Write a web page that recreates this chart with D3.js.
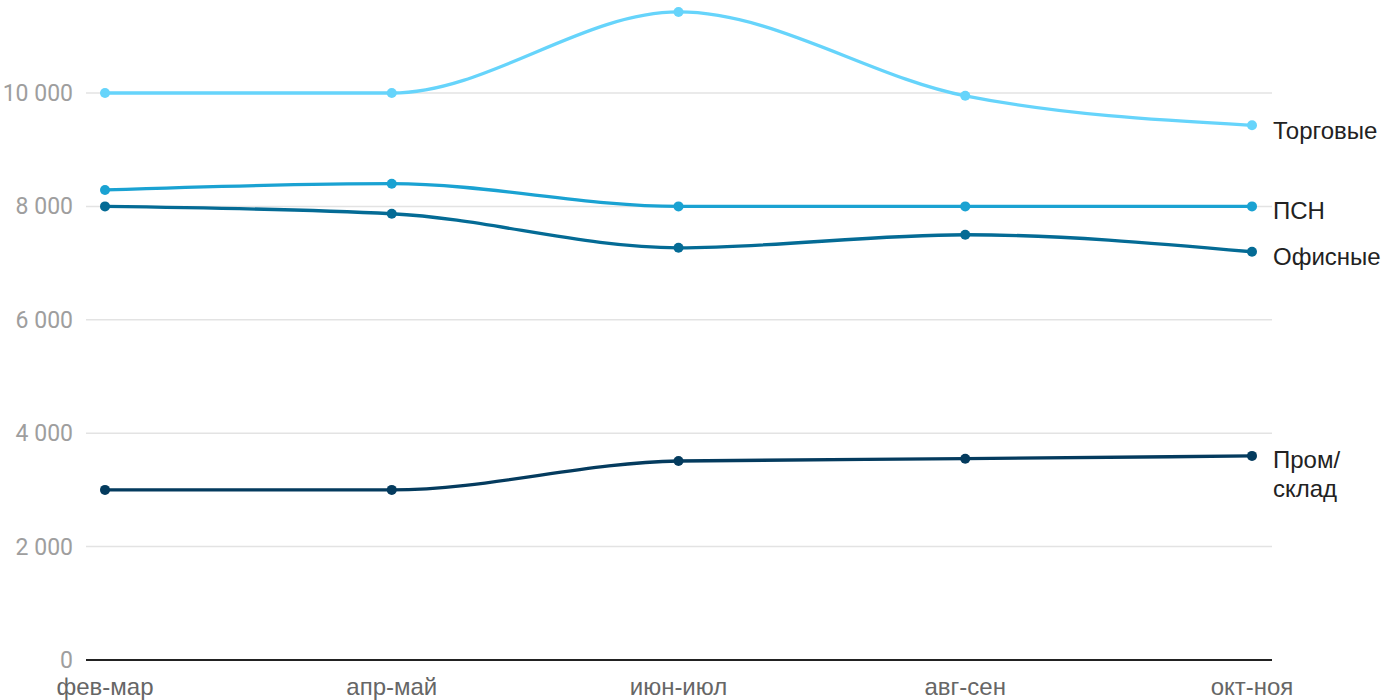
<!DOCTYPE html>
<html><head><meta charset="utf-8">
<script src="https://cdn.jsdelivr.net/npm/d3@7"></script>
<style>html,body{margin:0;padding:0;background:#fff;}</style>
</head><body>
<svg id="chart" width="1400" height="700"></svg>
<script>
const categories = ["фев-мар","апр-май","июн-июл","авг-сен","окт-ноя"];
const seriesNames = ["Торговые","ПСН","Офисные","Пром/склад"];
const torgovye = [10000, 10000, 11430, 9950, 9430];
const psn = [8290, 8400, 8000, 8000, 8000];
const ofisnye = [8000, 7870, 7270, 7500, 7200];
const promsklad = [3000, 3000, 3510, 3550, 3600];
const yTicks = [0, 2000, 4000, 6000, 8000, 10000];
const colors = ["#66d4fb","#1aa2d2","#046b95","#043b5e"];
const seriesValues = [torgovye, psn, ofisnye, promsklad];

const svg = d3.select("#chart");
const x = d3.scalePoint().domain(categories).range([105, 1252]);
const y = d3.scaleLinear().domain([0, 10000]).range([660, 93]);
const fmt = v => d3.format(",")(v).replace(/,/g, "\u00a0");

// grid
svg.append("g").selectAll("line").data(yTicks.filter(t => t > 0)).join("line")
  .attr("x1", 86).attr("x2", 1272)
  .attr("y1", d => y(d)).attr("y2", d => y(d))
  .attr("stroke", "#e3e3e3").attr("stroke-width", 1.5);

// y labels
svg.append("g").selectAll("text").data(yTicks).join("text")
  .attr("x", 73).attr("y", d => y(d)).attr("dy", "0.35em")
  .attr("text-anchor", "end")
  .attr("font-family", "Roboto, sans-serif").attr("font-size", 23)
  .attr("fill", "#9e9e9e").text(d => fmt(d));

// baseline
svg.append("line").attr("x1", 86).attr("x2", 1272)
  .attr("y1", y(0)).attr("y2", y(0))
  .attr("stroke", "#222").attr("stroke-width", 2);

// x labels
svg.append("g").selectAll("text").data(categories).join("text")
  .attr("x", d => x(d)).attr("y", 695)
  .attr("text-anchor", "middle")
  .attr("font-family", "'Liberation Sans', Arial, sans-serif").attr("font-size", 24)
  .attr("fill", "#666").text(d => d);

const line = d3.line().x((d, i) => x(categories[i])).y(d => y(d)).curve(d3.curveMonotoneX);

seriesValues.forEach((vals, si) => {
  const g = svg.append("g");
  g.append("path").attr("d", line(vals)).attr("fill", "none")
    .attr("stroke", colors[si]).attr("stroke-width", 3.3);
  g.selectAll("circle").data(vals).join("circle")
    .attr("cx", (d, i) => x(categories[i])).attr("cy", d => y(d))
    .attr("r", 5).attr("fill", colors[si]);
});

// series labels
const labelOffsets = [5, 4, 5, 4];
seriesNames.forEach((name, si) => {
  const v = seriesValues[si][4];
  const t = svg.append("text")
    .attr("x", 1273).attr("y", y(v) + labelOffsets[si])
    .attr("font-family", "'Liberation Sans', Arial, sans-serif").attr("font-size", 24)
    .attr("fill", "#222");
  const parts = name === "Пром/склад" ? ["Пром/", "склад"] : [name];
  parts.forEach((p, k) => {
    t.append("tspan").attr("x", 1273).attr("dy", k === 0 ? "0.35em" : "1.2em").text(p);
  });
});
</script>
</body></html>
